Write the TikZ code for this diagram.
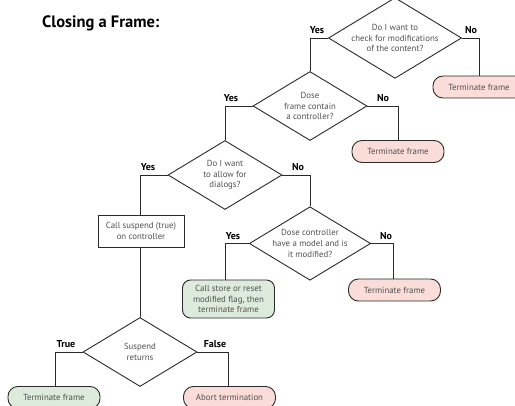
\documentclass[tikz,border=0pt]{standalone}
\usepackage{fontspec}
\setmainfont{PT Sans}
\usetikzlibrary{shapes.geometric}
\definecolor{pinkfill}{HTML}{FADDD8}
\definecolor{greenfill}{HTML}{DCEBDB}
\definecolor{txtgray}{HTML}{505050}
\definecolor{edge}{HTML}{2A2A2A}
\begin{document}
\begin{tikzpicture}[x=1pt,y=-1pt,
  conn/.style={line width=0.9pt, draw=edge},
  dec/.style={diamond, draw=edge, line width=0.9pt, minimum width=114pt, minimum height=69pt, inner sep=0pt, aspect=1.65,
     text=txtgray, font=\fontsize{8.8}{10.8}\selectfont, align=center},
  term/.style={rectangle, draw=edge, line width=0.9pt, rounded corners=10pt, minimum width=92pt, minimum height=22pt, inner sep=0pt,
     text=txtgray, font=\fontsize{8.8}{10.8}\selectfont, align=center},
  pinkterm/.style={term, fill=pinkfill},
  greenterm/.style={term, fill=greenfill},
  proc/.style={rectangle, draw=edge, line width=0.9pt, inner sep=0pt, text=txtgray, font=\fontsize{8.8}{10.8}\selectfont, align=center},
  lab/.style={font=\bfseries\fontsize{10}{12}\selectfont, text=black, inner sep=0pt}
]
\useasboundingbox (0,0) rectangle (515,406);
\node[font=\bfseries\fontsize{16.5}{19}\selectfont, anchor=west, inner sep=0pt] (title) at (42,23) {Closing a Frame:};

% diamonds
\node[dec, minimum width=115pt, minimum height=70pt] (d1) at (395,38) {Do I want to\\check for modifications\\of the content?};
\node[dec] (d2) at (310,106) {Dose\\frame contain\\a controller?};
\node[dec] (d3) at (225,175) {Do I want\\to allow for\\dialogs?};
\node[dec] (d4) at (310,243.5) {Dose controller\\have a model and is\\it modified?};
\node[dec] (d5) at (140,352) {Suspend\\returns};

% terminals
\node[pinkterm] (t1) at (479,87) {Terminate frame};
\node[pinkterm] (t2) at (398,151.5) {Terminate frame};
\node[pinkterm] (t3) at (394.5,290) {Terminate frame};
\node[greenterm, minimum width=92pt, minimum height=38pt, rounded corners=8pt] (g1) at (228.5,299) {Call store or reset\\modified flag, then\\terminate frame};
\node[proc, minimum width=86pt, minimum height=32pt] (p1) at (141,231) {Call suspend (true)\\on controller};
\node[greenterm] (t4) at (54,397.5) {Terminate frame};
\node[pinkterm] (t5) at (229.5,397.5) {Abort termination};

% connectors
\coordinate (c1y) at (310,38);
\coordinate (c1n) at (479,38);
\draw[conn] (d1.west) -- (c1y) -- (d2.north);
\draw[conn] (d1.east) -- (c1n) -- (t1.north);
\node[lab, anchor=south] (l1y) at (317,34) {Yes};
\node[lab, anchor=south] (l1n) at (471,34) {No};

\coordinate (c2y) at (225,106);
\coordinate (c2n) at (398,106);
\draw[conn] (d2.west) -- (c2y) -- (d3.north);
\draw[conn] (d2.east) -- (c2n) -- (t2.north);
\node[lab, anchor=south] (l2y) at (231,102) {Yes};
\node[lab, anchor=south] (l2n) at (383,102) {No};

\coordinate (c3y) at (140,175);
\coordinate (c3n) at (310,175);
\draw[conn] (d3.west) -- (c3y) -- (p1.north -| c3y);
\draw[conn] (d3.east) -- (c3n) -- (d4.north);
\node[lab, anchor=south] (l3y) at (148,171) {Yes};
\node[lab, anchor=south] (l3n) at (298,171) {No};

\coordinate (c4y) at (225,243.5);
\coordinate (c4n) at (393,243.5);
\draw[conn] (d4.west) -- (c4y) -- (g1.north -| c4y);
\draw[conn] (d4.east) -- (c4n) -- (t3.north -| c4n);
\node[lab, anchor=south] (l4y) at (233,239.5) {Yes};
\node[lab, anchor=south] (l4n) at (386,239.5) {No};

\draw[conn] (p1.south -| d5.north) -- (d5.north);

\coordinate (c5t) at (55,352);
\coordinate (c5f) at (228,352);
\draw[conn] (d5.west) -- (c5t) -- (t4.north -| c5t);
\draw[conn] (d5.east) -- (c5f) -- (t5.north -| c5f);
\node[lab, anchor=south] (l5t) at (66,348) {True};
\node[lab, anchor=south] (l5f) at (215,348) {False};
\end{tikzpicture}
\end{document}
